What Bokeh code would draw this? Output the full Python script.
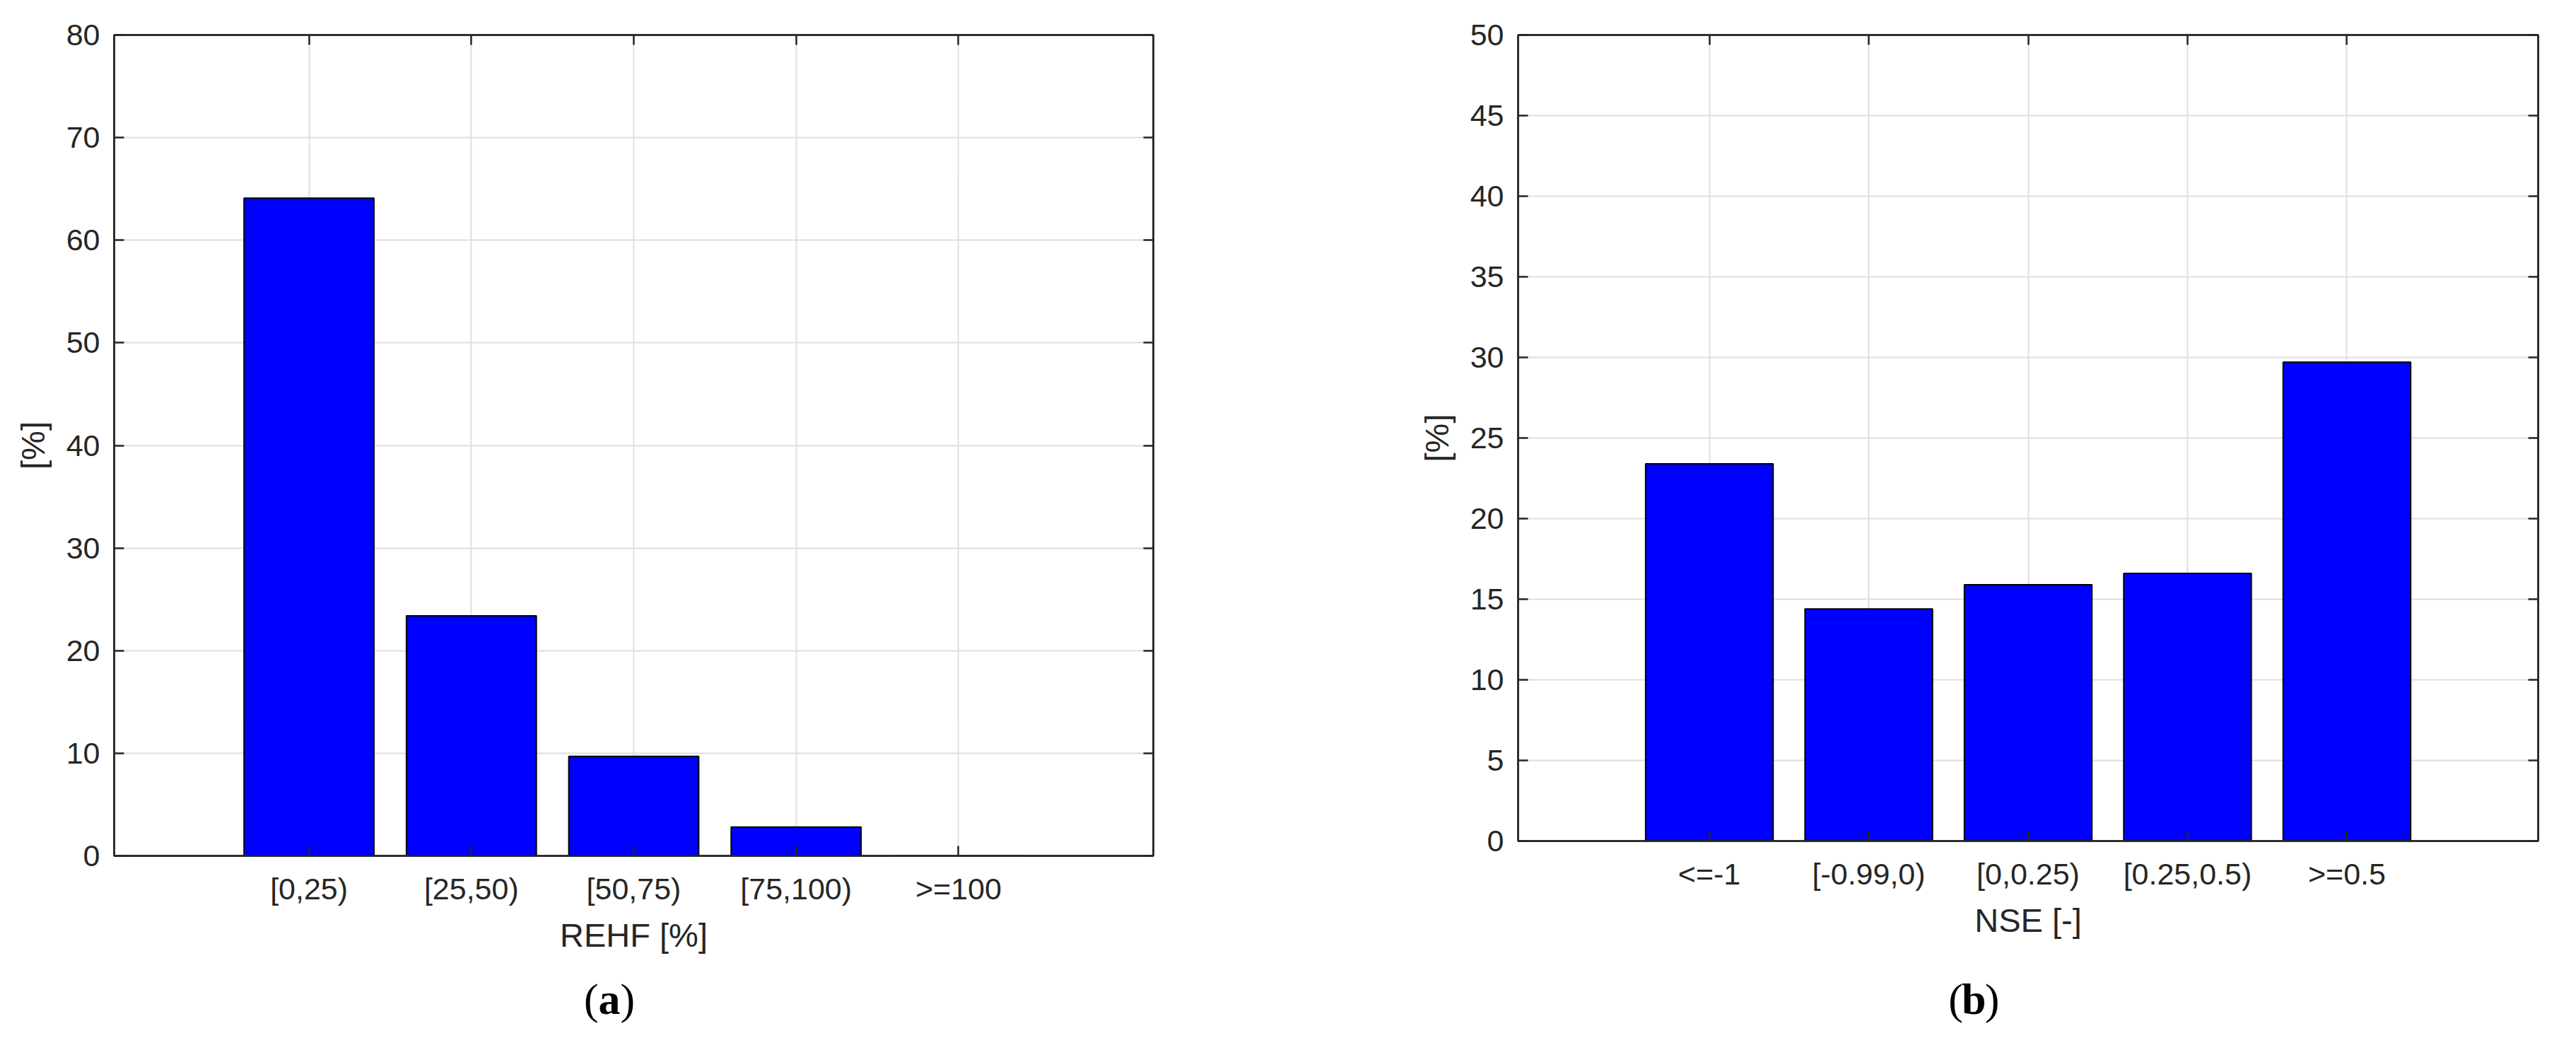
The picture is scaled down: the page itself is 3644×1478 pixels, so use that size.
from bokeh.plotting import figure
from bokeh.layouts import row, column
from bokeh.models import Range1d, FixedTicker, LinearAxis
from bokeh.core.properties import value
from bokeh.embed import file_html
from bokeh.resources import INLINE

# ---- data -------------------------------------------------------------
rehf_categories = ["[0,25)", "[25,50)", "[50,75)", "[75,100)", ">=100"]
rehf_values = [64.1, 23.4, 9.7, 2.8, 0.0]
rehf_yticks = [0, 10, 20, 30, 40, 50, 60, 70, 80]

nse_categories = ["<=-1", "[-0.99,0)", "[0,0.25)", "[0.25,0.5)", ">=0.5"]
nse_values = [23.4, 14.4, 15.9, 16.6, 29.7]
nse_yticks = [0, 5, 10, 15, 20, 25, 30, 35, 40, 45, 50]

AX = "#262626"
GRID = "#dedede"
FONT = "Liberation Sans"
SERIF = "Liberation Serif"
MAIN_H = 1370
TAG_H = 84


def panel(cats, vals, yticks, xlabel, frame_w, frame_h, bl, bt, br):
    xs = list(range(1, len(cats) + 1))
    p = figure(frame_width=frame_w, frame_height=frame_h,
               min_border_left=bl, min_border_top=bt,
               min_border_right=br, min_border_bottom=MAIN_H - bt - frame_h,
               x_range=Range1d(-0.2, len(cats) + 1.2),
               y_range=Range1d(yticks[0], yticks[-1]),
               output_backend="svg", toolbar_location=None, tools="")
    p.background_fill_color = "white"
    p.border_fill_color = "white"
    p.outline_line_color = AX
    p.outline_line_width = 2.5

    p.vbar(x=xs, top=vals, width=0.8, fill_color="#0000ff",
           line_color="black", line_width=2)

    p.xgrid.ticker = FixedTicker(ticks=xs)
    p.ygrid.ticker = FixedTicker(ticks=yticks)
    for g in (p.xgrid[0], p.ygrid[0]):
        g.grid_line_color = GRID
        g.grid_line_width = 2

    xa = p.xaxis[0]
    xa.ticker = FixedTicker(ticks=xs)
    xa.major_label_overrides = {x: c for x, c in zip(xs, cats)}
    xa.axis_label = xlabel
    ya = p.yaxis[0]
    ya.ticker = FixedTicker(ticks=yticks)
    ya.axis_label = "[%]"

    for ax in (xa, ya):
        ax.axis_line_color = AX
        ax.axis_line_width = 2.5
        ax.major_tick_line_color = AX
        ax.major_tick_line_width = 2.5
        ax.major_tick_in = 14
        ax.major_tick_out = 0
        ax.minor_tick_line_color = None
        ax.major_label_text_font = FONT
        ax.major_label_text_font_size = "43px"
        ax.major_label_text_color = AX
        ax.axis_label_text_font = FONT
        ax.axis_label_text_font_size = "47px"
        ax.axis_label_text_font_style = "normal"
        ax.axis_label_text_color = AX
    xa.major_label_standoff = 22
    xa.axis_label_standoff = 12
    ya.major_label_standoff = 20
    ya.axis_label_standoff = 18

    for loc, ticks in (("above", xs), ("right", yticks)):
        ax = LinearAxis(ticker=FixedTicker(ticks=ticks))
        ax.major_label_overrides = {t: "" for t in ticks}
        ax.major_label_text_font_size = "0px"
        ax.major_label_standoff = 0
        ax.axis_line_color = AX
        ax.axis_line_width = 2.5
        ax.major_tick_line_color = AX
        ax.major_tick_line_width = 2.5
        ax.major_tick_in = 14
        ax.major_tick_out = 0
        ax.minor_tick_line_color = None
        p.add_layout(ax, loc)
    return p


def tag_panel(main, tag, tx, frame_w, bl, br):
    t = figure(frame_width=frame_w, frame_height=TAG_H,
               min_border_left=bl, min_border_right=br,
               min_border_top=0, min_border_bottom=0,
               x_range=main.x_range, y_range=Range1d(0, 1),
               x_axis_location=None, y_axis_location=None,
               output_backend="svg", toolbar_location=None, tools="")
    t.outline_line_color = None
    t.xgrid.visible = False
    t.ygrid.visible = False
    common = dict(y=[0.5], text_font=value(SERIF), text_font_size=value("62px"),
                  text_baseline="middle", text_color="black")
    t.text(x=[tx], text=["("], text_align="right", x_offset=-15.5, **common)
    t.text(x=[tx], text=[tag], text_align="center", text_font_style="bold", **common)
    t.text(x=[tx], text=[")"], text_align="left", x_offset=15.5, **common)
    return t


p1 = panel(rehf_categories, rehf_values, rehf_yticks, "REHF [%]", 1470, 1161, 161, 38, 200)
p2 = panel(nse_categories, nse_values, nse_yticks, "NSE [-]", 1443, 1140, 316, 49, 20)
t1 = tag_panel(p1, "a", 2.85, 1470, 161, 200)
t2 = tag_panel(p2, "b", 2.66, 1443, 316, 20)

layout = column(row(p1, p2, spacing=0), row(t1, t2, spacing=0), spacing=0)
open("out.html", "w").write(file_html(layout, INLINE))
